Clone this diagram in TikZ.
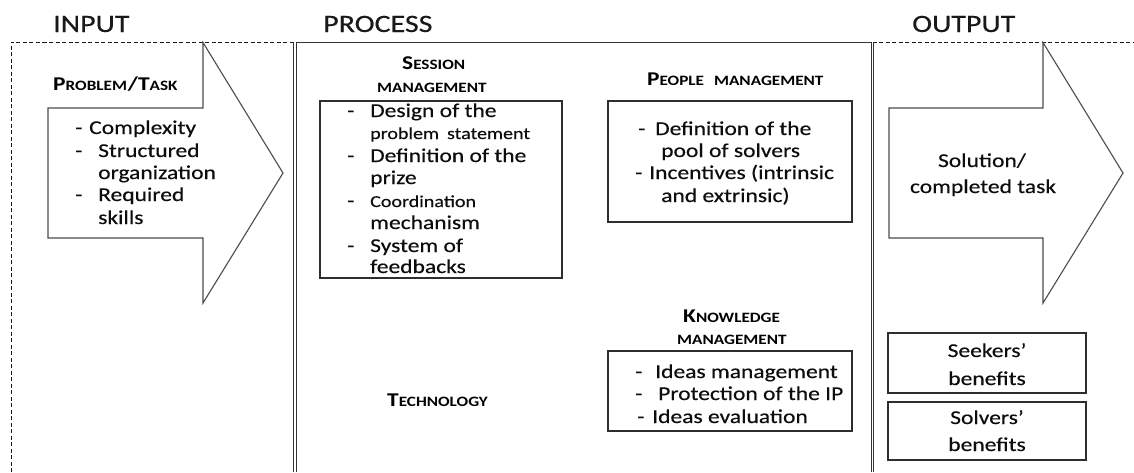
\documentclass[tikz,border=0pt]{standalone}
\usepackage{fontspec}
\setmainfont[FakeStretch=1.2, UprightFeatures={FakeBold=0.35}]{Carlito}
% type sizes
\newcommand\bodysize{\fontsize{19.6}{22}\selectfont}
\newcommand\smallbody{\fontsize{16.7}{20}\selectfont}
\newcommand\titlesize{\fontsize{25}{30}\selectfont}
\newcommand\capsbig{\fontsize{19.5}{22}\selectfont\bfseries}
\newcommand\capssmall{\fontsize{14.3}{16}\selectfont\bfseries}
% hand-made small capitals: first letter large, the rest small
\newcommand\hcaps[2]{{\capsbig #1}{\capssmall #2}}
\newcommand\scaps[1]{{\capssmall #1}}
\begin{document}
\begin{tikzpicture}[x=1pt,y=-1pt,
  frame/.style={dashed, dash pattern=on 4pt off 2.5pt, line width=1pt, black!90},
  solidtop/.style={line width=1pt, black!80},
  dbl/.style={double=white, double distance=1.3pt, line width=0.9pt, draw=black!80},
  arrowline/.style={draw=black!70, fill=white, line width=1.1pt, line join=miter},
  box/.style={draw=black!82, line width=1.3pt, rectangle, inner sep=0pt},
  body/.style={anchor=base west, inner sep=0pt, font=\bodysize, text=black!95},
  sbody/.style={anchor=base west, inner sep=0pt, font=\smallbody, text=black!95},
  cbody/.style={anchor=base, inner sep=0pt, font=\bodysize, text=black!95},
  head/.style={anchor=base west, inner sep=0pt, text=black},
  title/.style={anchor=base west, inner sep=0pt, font=\titlesize, text=black!90}]
\useasboundingbox (0,0) rectangle (1134,472);
\fill[white] (0,0) rectangle (1134,472);

% column titles
\node[title] (tin) at (53,32) {INPUT};
\node[title] (tproc) at (323,32) {PROCESS};
\node[title] (tout) at (912,32) {OUTPUT};

% outer dashed frame and solid process top
\draw[frame] (11,472) -- (11,42) -- (295,42);
\draw[frame] (872.5,42) -- (1134,42);
\draw[solidtop] (295,42) -- (872.5,42);
\draw[dbl] (295,42) -- (295,472);
\draw[dbl] (872.5,42) -- (872.5,472);

% input and output block arrows
\draw[arrowline] (48,108) -- (203,108) -- (203,42.5) -- (283,173) -- (203,303)
  -- (203,238) -- (48,238) -- cycle;
\draw[arrowline] (889,108) -- (1043,108) -- (1043,42.5) -- (1123,173) -- (1043,303)
  -- (1043,238) -- (889,238) -- cycle;

% input contents
\node[head] (probhd) at (53,90) {\hcaps{P}{ROBLEM}\hspace{1pt}{\capsbig/}\hcaps{T}{ASK}};
\node[body] (id1) at (75,134) {-};
\node[body] (it1) at (89,134) {Complexity};
\node[body] (id2) at (75,157) {-};
\node[body] (it2) at (98,157) {Structured};
\node[body] (it3) at (98,179) {organization};
\node[body] (id4) at (75,201) {-};
\node[body] (it4) at (98,201) {Required};
\node[body] (it5) at (98,224) {skills};

% session management
\node[head] (sesshd1) at (402,69) {\hcaps{S}{ESSION}};
\node[head] (sesshd2) at (377,92) {\scaps{MANAGEMENT}};
\node[box, minimum width=242pt, minimum height=177pt] (sessbox) at (441,189.5) {};
\node[body] (sd1) at (347,117) {-};
\node[body] (st1) at (370,117) {Design of the};
\node[sbody] (st2) at (370,139) {problem\hspace{8pt}statement};
\node[body] (sd3) at (347,162) {-};
\node[body] (st3) at (370,162) {Definition of the};
\node[body] (st4) at (370,184) {prize};
\node[body] (sd5) at (347,207) {-};
\node[sbody] (st5) at (370,207) {Coordination};
\node[body] (st6) at (370,229) {mechanism};
\node[body] (sd7) at (347,252) {-};
\node[body] (st7) at (370,252) {System of};
\node[body] (st8) at (370,273) {feedbacks};

% people management
\node[head] (pplhd) at (647,85) {\hcaps{P}{EOPLE}\hspace{10pt}\scaps{MANAGEMENT}};
\node[box, minimum width=244pt, minimum height=121pt] (pplbox) at (730,161.5) {};
\node[body] (pd1) at (638,135) {-};
\node[body] (pt1) at (655,135) {Definition of the};
\node[body] (pt2) at (661,157) {pool of solvers};
\node[body] (pd3) at (635,179) {-};
\node[body] (pt3) at (649,179) {Incentives (intrinsic};
\node[body] (pt4) at (661,202) {and extrinsic)};

% knowledge management
\node[head] (knowhd1) at (683,322) {\hcaps{K}{NOWLEDGE}};
\node[head] (knowhd2) at (677,344) {\scaps{MANAGEMENT}};
\node[box, minimum width=244pt, minimum height=80pt] (knowbox) at (730,391) {};
\node[body] (kd1) at (635,378) {-};
\node[body] (kt1) at (655,378) {Ideas management};
\node[body] (kd2) at (635,400) {-};
\node[body] (kt2) at (658,400) {Protection of the IP};
\node[body] (kd3) at (637,423) {-};
\node[body] (kt3) at (652,423) {Ideas evaluation};

% technology
\node[head] (techhd) at (387,406) {\hcaps{T}{ECHNOLOGY}};

% output contents
\node[cbody] (out1) at (982,167) {Solution/};
\node[cbody] (out2) at (983,193) {completed task};
\node[box, minimum width=198pt, minimum height=60pt] (seekbox) at (987,363) {};
\node[cbody] (seek1) at (987,357) {Seekers’};
\node[cbody] (seek2) at (987,385) {benefits};
\node[box, minimum width=198pt, minimum height=58pt] (solvbox) at (987,431) {};
\node[cbody] (solv1) at (987,424) {Solvers’};
\node[cbody] (solv2) at (987,451) {benefits};
\end{tikzpicture}
\end{document}
